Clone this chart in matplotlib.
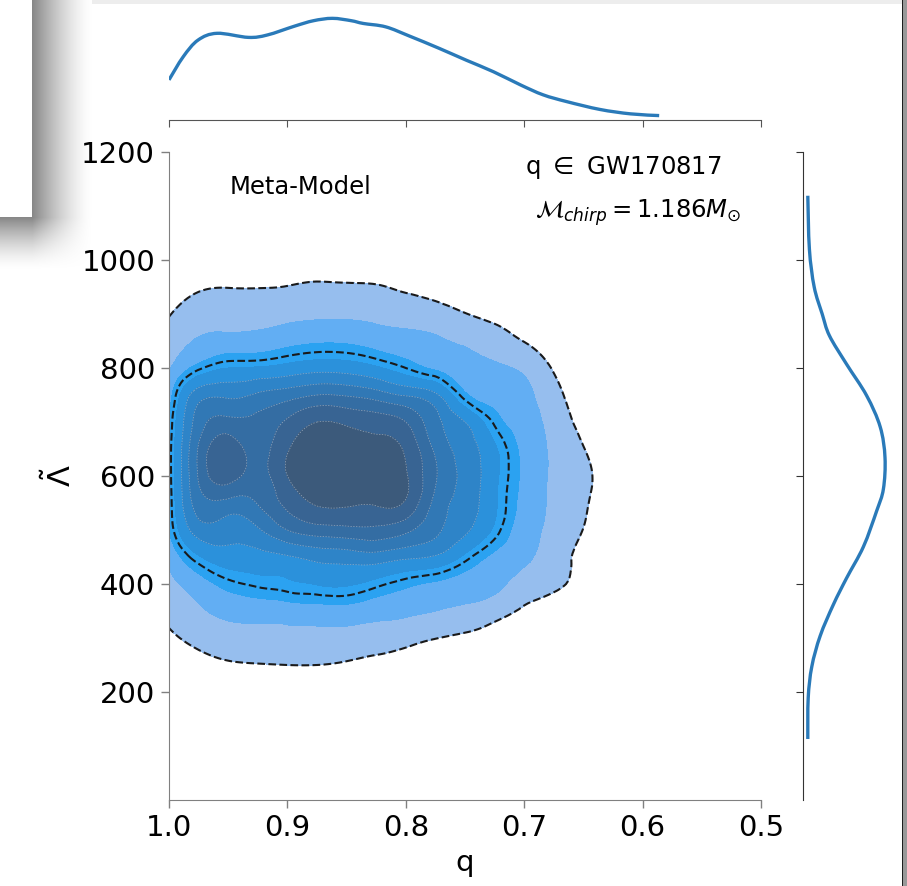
import numpy as np
import matplotlib
matplotlib.use("Agg")
import matplotlib.pyplot as plt
import matplotlib.tri as mtri
from matplotlib.path import Path
from matplotlib.patches import PathPatch

# 2D posterior density of (q, Lambda~), arbitrary units, one list per q column
q_grid = [1.0, 0.975, 0.95, 0.925, 0.9, 0.875, 0.85, 0.825, 0.8,
          0.775, 0.75, 0.725, 0.7, 0.675, 0.65, 0.625, 0.6]
lam_grid = [150, 200, 250, 300, 350, 400, 450, 500, 550, 600,
            650, 700, 750, 800, 850, 900, 950, 1000, 1050]
density_cols = [
    [0, 0.1, 0.4, 0.83, 1.27, 1.72, 2.26, 3.0, 3.1, 3.2, 3.2, 3.05, 2.57, 1.9, 1.42, 0.95, 0.5, 0.15, 0],
    [0, 0.3, 0.7, 1.27, 1.84, 2.55, 3.9, 5.5, 6.5, 7.1, 7.1, 6.5, 5.55, 3.35, 2.1, 1.47, 0.9, 0.45, 0.1],
    [0, 0.2, 0.88, 1.55, 2.29, 3.3, 4.52, 5.5, 6.7, 8.5, 8.6, 7.33, 5.8, 4.0, 2.32, 1.56, 0.98, 0.4, 0],
    [0, 0.3, 0.96, 1.64, 2.43, 3.63, 4.67, 5.86, 7.05, 7.6, 7.65, 7.3, 6.15, 4.09, 2.39, 1.59, 0.97, 0.35, 0],
    [0, 0.3, 1.0, 1.69, 2.51, 3.82, 4.9, 7.0, 8.3, 9.0, 8.9, 8.17, 6.55, 4.35, 2.68, 1.72, 1.03, 0.35, 0],
    [0, 0.3, 1.0, 1.7, 2.59, 4.04, 5.3, 7.55, 9.1, 9.5, 9.5, 9.0, 7.0, 4.63, 2.88, 1.82, 1.14, 0.45, 0],
    [0, 0.2, 0.88, 1.66, 2.63, 4.11, 5.45, 7.7, 9.15, 9.7, 9.6, 8.83, 6.9, 4.55, 2.86, 1.82, 1.1, 0.5, 0],
    [0, 0.1, 0.7, 1.5, 2.38, 3.69, 5.57, 7.75, 9.1, 9.55, 9.35, 8.55, 6.5, 4.14, 2.58, 1.73, 1.07, 0.4, 0],
    [0, 0.05, 0.55, 1.3, 2.2, 3.2, 5.2, 7.25, 8.87, 9.1, 8.85, 8.0, 5.91, 3.5, 2.34, 1.57, 0.85, 0.25, 0],
    [0, 0, 0.3, 1.03, 2.0, 2.84, 4.88, 6.2, 6.7, 7.1, 6.8, 6.3, 5.19, 2.85, 2.1, 1.37, 0.65, 0.1, 0],
    [0, 0, 0.15, 0.8, 1.78, 2.55, 3.78, 5.2, 5.55, 5.7, 5.55, 5.0, 3.17, 2.46, 1.83, 1.03, 0.4, 0, 0],
    [0, 0, 0, 0.5, 1.4, 2.26, 2.79, 3.82, 4.15, 4.25, 4.15, 3.38, 2.63, 2.15, 1.46, 0.75, 0.2, 0, 0],
    [0, 0, 0, 0.2, 0.85, 1.58, 2.2, 2.5, 2.7, 2.8, 2.75, 2.5, 2.25, 1.82, 0.97, 0.35, 0, 0, 0],
    [0, 0, 0, 0, 0.4, 1.2, 1.45, 1.7, 1.8, 1.83, 1.8, 1.6, 1.35, 0.9, 0.4, 0.05, 0, 0, 0],
    [0, 0, 0, 0, 0.1, 0.6, 0.75, 0.98, 1.12, 1.2, 1.03, 0.75, 0.45, 0.15, 0, 0, 0, 0, 0],
    [0, 0, 0, 0, 0, 0, 0.2, 0.35, 0.5, 0.55, 0.45, 0.3, 0.15, 0, 0, 0, 0, 0, 0],
    [0, 0, 0, 0, 0, 0, 0, 0, 0.05, 0.1, 0.05, 0, 0, 0, 0, 0, 0, 0, 0],
]
fill_levels = [1, 2, 3, 4, 5, 6, 7, 8, 9, 20]
fill_colors = ['#96beee', '#62aef3', '#2ba2f1', '#2b91db', '#2e84c8',
               '#3178b5', '#346da3', '#386493', '#3c5a7b']
ci_levels = [1, 3.5]

# marginal KDE of q
q_marg = [1.0, 0.988, 0.9755, 0.9595, 0.933, 0.917, 0.894, 0.878, 0.862, 0.846, 0.836,
          0.817, 0.797, 0.772, 0.749, 0.726, 0.703, 0.684, 0.664, 0.636, 0.610, 0.586]
q_dens = [1.18, 1.86, 2.35, 2.55, 2.43, 2.50, 2.76, 2.92, 2.99, 2.92, 2.84,
          2.74, 2.47, 2.11, 1.76, 1.42, 1.03, 0.74, 0.54, 0.31, 0.18, 0.13]

# marginal KDE of Lambda~ (x1e-3)
lam_marg = [1119, 1020, 950, 900, 860, 807, 749, 691, 634, 576, 535, 469, 411, 362, 304, 247, 189, 113]
lam_dens = [0.12, 0.16, 0.28, 0.48, 0.66, 1.09, 1.59, 1.93, 2.05, 2.01, 1.84, 1.51,
            1.09, 0.76, 0.43, 0.22, 0.13, 0.12]


def smooth_path(xs, ys):
    # Catmull-Rom curve through the points, as cubic Bezier segments
    pts = np.column_stack([xs, ys]).astype(float)
    verts = [pts[0]]
    codes = [Path.MOVETO]
    n = len(pts)
    for i in range(n - 1):
        p0 = pts[max(i - 1, 0)]
        p1, p2 = pts[i], pts[i + 1]
        p3 = pts[min(i + 2, n - 1)]
        verts += [p1 + (p2 - p0) / 6, p2 - (p3 - p1) / 6, p2]
        codes += [Path.CURVE4] * 3
    return Path(verts, codes)


W, H = 907, 886
fig = plt.figure(figsize=(W / 100, H / 100), dpi=100)
ax = fig.add_axes([169 / W, 1 - 800 / H, 592 / W, 648 / H])
ax_top = fig.add_axes([169 / W, 1 - 120 / H, 592 / W, 110 / H], sharex=ax)
ax_right = fig.add_axes([803 / W, 1 - 800 / H, 90 / W, 648 / H], sharey=ax)

# smooth the gridded density on index space, then map back to q / Lambda
Z = np.array(density_cols).T
ix, iy = np.meshgrid(np.arange(len(q_grid)), np.arange(len(lam_grid)))
tri = mtri.Triangulation(ix.ravel().astype(float), iy.ravel().astype(float))
refiner = mtri.UniformTriRefiner(tri)
tri_f, z_f = refiner.refine_field(Z.ravel(), subdiv=3)
qx = np.interp(tri_f.x, np.arange(len(q_grid)), q_grid)
ly = np.interp(tri_f.y, np.arange(len(lam_grid)), lam_grid)
tri_d = mtri.Triangulation(qx, ly, tri_f.triangles)

ax.tricontourf(tri_d, z_f, levels=fill_levels, colors=fill_colors)
ax.tricontour(tri_d, z_f, levels=fill_levels[4:9], colors='#a9b8c8',
              linewidths=0.5, linestyles=[(0, (2, 2))], alpha=0.8)
ax.tricontour(tri_d, z_f, levels=ci_levels, colors='#1a1a1a',
              linewidths=1.5, linestyles='--')

for s in ['top', 'right']:
    ax.spines[s].set_visible(False)
for s in ['left', 'bottom']:
    ax.spines[s].set_color('#808080')
ax.tick_params(direction='out', length=6, width=1, color='#808080',
               labelsize=21, pad=4)
ax.set_xlabel('q', fontsize=21)
ax.set_ylabel(r'$\tilde{\Lambda}$', fontsize=22)
ax.yaxis.set_label_coords(-0.155, 0.5)
ax.xaxis.set_label_coords(0.5, -0.075)

ax.text(0.889, 1135, 'Meta-Model', fontsize=17.5, ha='center', va='center')
ax.text(0.616, 1172, r'q $\in$ GW170817', fontsize=17.5, ha='center', va='center')
ax.text(0.604, 1087, r'$\mathcal{M}_{chirp} = 1.186 M_{\odot}$', fontsize=17.5,
        ha='center', va='center')

# marginals
ax_top.add_patch(PathPatch(smooth_path(q_marg, q_dens), fill=False,
                           edgecolor='#2a7ab9', lw=2.4, capstyle='butt'))
for s in ['top', 'right', 'left']:
    ax_top.spines[s].set_visible(False)
ax_top.spines['bottom'].set_color('#555555')
ax_top.tick_params(axis='x', direction='out', length=5, color='#555555',
                   labelbottom=False)
ax_top.tick_params(axis='y', left=False, labelleft=False)

ax_right.add_patch(PathPatch(smooth_path(lam_dens, lam_marg), fill=False,
                             edgecolor='#2a7ab9', lw=2.4, capstyle='butt'))
for s in ['top', 'right', 'bottom']:
    ax_right.spines[s].set_visible(False)
ax_right.spines['left'].set_color('#333333')
ax_right.tick_params(axis='y', direction='out', length=5, color='#333333',
                     labelleft=False)
ax_right.tick_params(axis='x', bottom=False, labelbottom=False)

ax.set_xlim(1.0, 0.5)
ax.set_ylim(0, 1200)
ax.set_xticks([1.0, 0.9, 0.8, 0.7, 0.6, 0.5])
ax.set_xticklabels(['1.0', '0.9', '0.8', '0.7', '0.6', '0.5'])
ax.set_yticks([200, 400, 600, 800, 1000, 1200])
ax_top.set_ylim(0, 110 / 34)
ax_right.set_xlim(0, 90 / 40)

# window frame: drop shadow top left, strip on top, border on the right
yy, xx = np.mgrid[0:H, 0:W]
dx = np.clip((xx - 32) / 60.0, 0, 1)
dy = np.clip((yy - 217) / 52.0, 0, 1)
dark = 0.47 * (1 - dx) ** 1.5 * (1 - dy) ** 1.5
dark[(xx < 32) & (yy < 217)] = 0
shade = 1 - dark
shade[(yy < 4) & (xx >= 92)] = 0.93
shade[:, 902] = 0.12
shade[:, 903:] = 0.6
frame = np.zeros((H, W, 4))
frame[..., 0] = shade
frame[..., 1] = shade
frame[..., 2] = shade
frame[..., 3] = (shade < 0.999).astype(float)
fig.figimage(frame, xo=0, yo=0, origin='upper', zorder=-1)

fig.savefig('out.png', dpi=100)
